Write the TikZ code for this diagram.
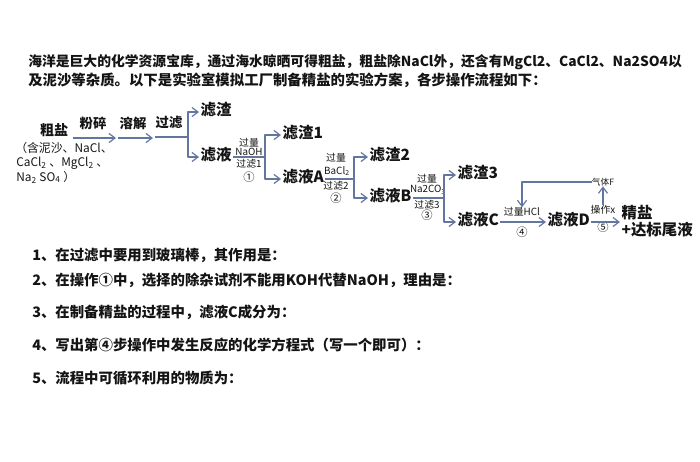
\documentclass[tikz,border=0pt]{standalone}
\usepackage{fontspec}
\setmainfont{Noto Sans CJK SC}
\usetikzlibrary{arrows.meta}
\definecolor{flowBlue}{RGB}{98,118,160}
\definecolor{textInk}{RGB}{20,20,20}
\tikzset{
  qtext/.style={font=\bfseries\fontsize{10.8}{12}\selectfont, text=textInk,
    anchor=west, inner sep=0pt},
  subst/.style={font=\bfseries\fontsize{11.6}{13}\selectfont, text=textInk,
    inner sep=1pt, text height=.8em, text depth=.35em},
  oper/.style={font=\bfseries\fontsize{10}{11}\selectfont, text=textInk,
    inner sep=0pt},
  reag/.style={font=\fontsize{7.4}{8}\selectfont, text=textInk, inner sep=0pt},
  stepno/.style={font=\fontsize{8.5}{9}\selectfont, text=textInk, inner sep=0pt},
  flow/.style={-{Straight Barb[length=1.6mm,width=2.4mm]}, line width=.9pt,
    draw=flowBlue, line join=round},
  link/.style={line width=.9pt, draw=flowBlue}
}

\begin{document}
\begin{tikzpicture}[x=0.75pt, y=-0.75pt,
  imp/.style={font=\fontsize{8.9}{9.5}\selectfont, text=textInk, anchor=west,
    inner sep=0pt},
  prod/.style={subst, align=left, anchor=west, text height=, text depth=}
]
\path[use as bounding box] (0,0) rectangle (700,461);

% header text
\node[qtext, font=\bfseries\fontsize{10.35}{12}\selectfont] (intro1) at (28,62) {海洋是巨大的化学资源宝库，通过海水晾晒可得粗盐，粗盐除NaCl外，还含有MgCl2、CaCl2、Na2SO4以};
\node[qtext] (intro2) at (28,80) {及泥沙等杂质。以下是实验室模拟工厂制备精盐的实验方案，各步操作流程如下：};

% crude salt
\node[oper, font=\bfseries\fontsize{10.5}{12}\selectfont] (crude) at (54,130) {粗盐};
\node[imp] (imp1) at (15,148) {（含泥沙、NaCl、};
\node[imp] (imp2) at (16,163) {CaCl\textsubscript{2} 、MgCl\textsubscript{2} 、};
\node[imp] (imp3) at (16,177) {Na\textsubscript{2} SO\textsubscript{4} ）};

\coordinate (s1) at (73,138); \coordinate (e1) at (116,138);
\coordinate (s2) at (118,138); \coordinate (e2) at (153,138);
\coordinate (s3) at (155,137); \coordinate (k0) at (188,137);
\node[oper] (crush) at (93,123) {粉碎};
\node[oper] (dissolve) at (133,123) {溶解};
\node[oper] (filter0) at (169,123) {过滤};

\node[subst, anchor=west] (res0) at (199,112) {滤渣};
\node[subst, anchor=west] (fil0) at (199,157) {滤液};

% step 1
\coordinate (k1) at (265,157);
\node[reag] (r1a) at (249,143) {过量};
\node[reag] (r1b) at (249,152) {NaOH};
\node[reag] (r1c) at (249,164) {过滤1};
\node[stepno] (n1) at (249,177) {①};
\node[subst, anchor=west] (res1) at (281,135) {滤渣1};
\node[subst, anchor=west] (filA) at (281,179) {滤液A};

% step 2
\coordinate (k2) at (354,179);
\node[reag] (r2a) at (336,158) {过量};
\node[reag] (r2b) at (337,171) {BaCl\textsubscript{2}};
\node[reag] (r2c) at (336,186) {过滤2};
\node[stepno] (n2) at (336,198) {②};
\node[subst, anchor=west] (res2) at (368,157) {滤渣2};
\node[subst, anchor=west] (filB) at (368,198) {滤液B};

% step 3
\coordinate (k3) at (444,198);
\node[reag] (r3a) at (427,179) {过量};
\node[reag] (r3b) at (428,190) {Na2CO\textsubscript{3}};
\node[reag] (r3c) at (427,205) {过滤3};
\node[stepno] (n3) at (427,215) {③};
\node[subst, anchor=west] (res3) at (456,175) {滤渣3};
\node[subst, anchor=west] (filC) at (456,222) {滤液C};

% steps 4 and 5
\node[reag] (hcl) at (522,212) {过量HCl};
\node[stepno] (n4) at (522,232) {④};
\node[subst, anchor=west] (filD) at (546,222) {滤液D};
\node[reag, font=\fontsize{6.5}{7}\selectfont] (gas) at (603,182) {气体F};
\node[reag] (opx) at (603,210) {操作x};
\node[stepno] (n5) at (603,227) {⑤};
\node[prod] (salt) at (620,221) {精盐\\+达标尾液};

\draw[flow] (s1) -- (e1);
\draw[flow] (s2) -- (e2);
\draw[link] (s3) -- (k0);
\draw[flow] (k0) |- (res0.west);
\draw[flow] (k0) |- (fil0.west);
\draw[link] (fil0.east) -- (k1);
\draw[flow] (k1) |- (res1.west);
\draw[flow] (k1) |- (filA.west);
\draw[link] (filA.east) -- (k2);
\draw[flow] (k2) |- (res2.west);
\draw[flow] (k2) |- (filB.west);
\draw[link] (filB.east) -- (k3);
\draw[flow] (k3) |- (res3.west);
\draw[flow] (k3) |- (filC.west);
\draw[flow] (filC.east) -- (filD.west);
\draw[flow] (gas.west) -| (hcl.north);
\draw[flow] (filD.east) -- (filD.east -| salt.west);
\draw[flow] (opx.north) -- (opx.north |- gas.south);

% questions
\node[qtext] (q1) at (32,255) {1、在过滤中要用到玻璃棒，其作用是：};
\node[qtext] (q2) at (32,280) {2、在操作①中，选择的除杂试剂不能用KOH代替NaOH，理由是：};
\node[qtext] (q3) at (32,312) {3、在制备精盐的过程中，滤液C成分为：};
\node[qtext] (q4) at (32,345) {4、写出第④步操作中发生反应的化学方程式（写一个即可）：};
\node[qtext] (q5) at (32,378) {5、流程中可循环利用的物质为：};
\end{tikzpicture}
\end{document}
